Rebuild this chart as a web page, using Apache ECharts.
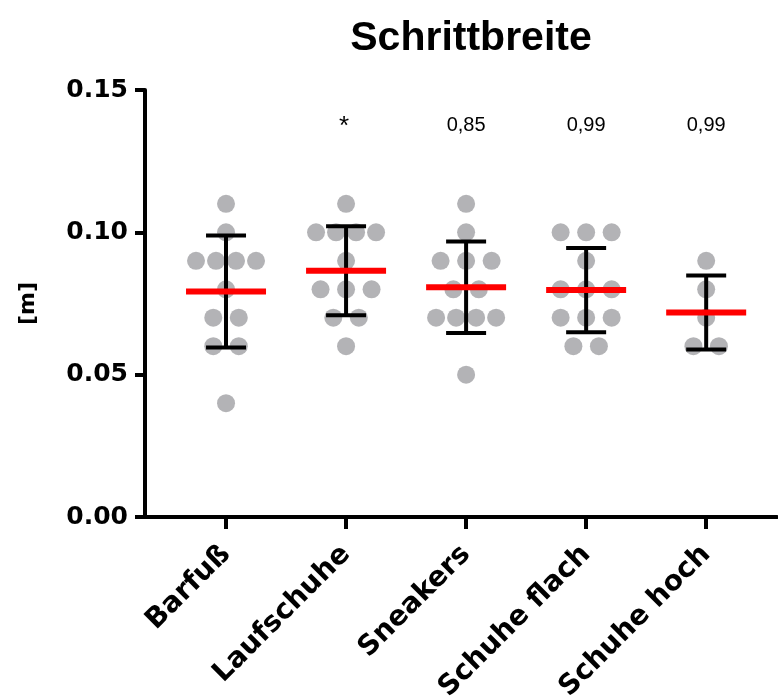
<!DOCTYPE html>
<html>
<head>
<meta charset="utf-8">
<script src="https://cdn.jsdelivr.net/npm/echarts@6/dist/echarts.min.js"></script>
<style>
  html, body { margin: 0; padding: 0; background: #fff; }
  #chart { width: 778px; height: 697px; }
</style>
</head>
<body>
<div id="chart"></div>
<script>
// Groups shown along the x axis
const categories = ['Barfuß', 'Laufschuhe', 'Sneakers', 'Schuhe flach', 'Schuhe hoch'];

// Individual step-width measurements per group [m]
const barfuss     = [0.11, 0.10, 0.09, 0.09, 0.09, 0.09, 0.08, 0.07, 0.07, 0.06, 0.06, 0.04];
const laufschuhe  = [0.11, 0.10, 0.10, 0.10, 0.10, 0.09, 0.08, 0.08, 0.08, 0.07, 0.07, 0.06];
const sneakers    = [0.11, 0.10, 0.09, 0.09, 0.09, 0.08, 0.08, 0.07, 0.07, 0.07, 0.07, 0.05];
const schuheFlach = [0.10, 0.10, 0.10, 0.09, 0.08, 0.08, 0.08, 0.07, 0.07, 0.07, 0.06, 0.06];
const schuheHoch  = [0.09, 0.08, 0.07, 0.06, 0.06];

// Group mean and standard deviation [m]
const means = [0.0792, 0.0865, 0.0807, 0.0797, 0.0718];
const sds   = [0.0197, 0.0156, 0.0161, 0.0148, 0.0130];

// Comparison results printed above each group
const pLabels = ['', '*', '0,85', '0,99', '0,99'];

// Y axis ticks
const yTicks = [0, 0.05, 0.10, 0.15];

const groups = [barfuss, laufschuhe, sneakers, schuheFlach, schuheHoch];
const groupPos = categories.map((c, i) => i + 1);

// Simple beeswarm: equal values in a group are spread side by side
const STEP = 0.2125;      // horizontal spacing of neighbouring dots (x units)
const MAX_SPAN = 0.5;     // widest allowed row (x units)
const dots = [];
groups.forEach((vals, gi) => {
  const rows = new Map();
  vals.forEach(v => {
    const key = v.toFixed(4);
    if (!rows.has(key)) rows.set(key, []);
    rows.get(key).push(v);
  });
  rows.forEach(row => {
    const n = row.length;
    const step = n > 1 ? Math.min(STEP, MAX_SPAN / (n - 1)) : 0;
    row.forEach((v, k) => {
      dots.push([groupPos[gi] + (k - (n - 1) / 2) * step, v]);
    });
  });
});

const summary = groupPos.map((x, i) => [x, means[i], sds[i]]);
const annot = groupPos.map(x => [x, yTicks[yTicks.length - 1]]);

const chart = echarts.init(document.getElementById('chart'), null, { renderer: 'canvas' });

chart.setOption({
  animation: false,
  backgroundColor: '#ffffff',
  title: {
    text: 'Schrittbreite',
    left: 466,
    textAlign: 'center',
    top: 13,
    textStyle: { fontFamily: 'Liberation Sans', fontWeight: 'bold', fontSize: 41, color: '#000' }
  },
  grid: { left: 145, right: 1, top: 90, bottom: 180, containLabel: false, outerBoundsMode: 'none' },
  xAxis: {
    type: 'value',
    min: 0.325,
    max: 5.59,
    splitLine: { show: false },
    axisLine: { show: true, onZero: false, lineStyle: { color: '#000', width: 4 } },
    axisTick: {
      show: true, customValues: groupPos, length: 12,
      lineStyle: { color: '#000', width: 4 }
    },
    axisLabel: {
      customValues: groupPos,
      formatter: v => categories[Math.round(v) - 1],
      rotate: 45,
      margin: 33,
      fontFamily: 'DejaVu Sans',
      fontWeight: 'bold',
      fontSize: 28,
      color: '#000'
    }
  },
  yAxis: {
    type: 'value',
    min: 0,
    max: 0.15,
    interval: 0.05,
    name: '[m]',
    nameLocation: 'middle',
    nameRotate: 90,
    nameGap: 106,
    nameTextStyle: { fontFamily: 'DejaVu Sans', fontWeight: 'bold', fontSize: 22, color: '#000' },
    splitLine: { show: false },
    axisLine: { show: true, onZero: false, lineStyle: { color: '#000', width: 4 } },
    axisTick: { show: true, length: 10, lineStyle: { color: '#000', width: 4 } },
    axisLabel: {
      margin: 17,
      formatter: v => v.toFixed(2),
      fontFamily: 'DejaVu Sans',
      fontWeight: 'bold',
      fontSize: 25,
      color: '#000'
    }
  },
  series: [
    {
      type: 'scatter',
      data: dots,
      symbol: 'circle',
      symbolSize: 18,
      itemStyle: { color: '#a0a0a4' },
      z: 2
    },
    {
      type: 'custom',
      data: summary,
      z: 3,
      renderItem: (params, api) => {
        const x = api.value(0), m = api.value(1), s = api.value(2);
        const c = api.coord([x, m]);
        const top = api.coord([x, m + s]);
        const bot = api.coord([x, m - s]);
        const capHalf = 20, meanHalf = 40;
        const black = { stroke: '#000', lineWidth: 4 };
        return {
          type: 'group',
          children: [
            { type: 'line', shape: { x1: c[0], y1: top[1], x2: c[0], y2: bot[1] }, style: black },
            { type: 'line', shape: { x1: c[0] - capHalf, y1: top[1], x2: c[0] + capHalf, y2: top[1] }, style: black },
            { type: 'line', shape: { x1: c[0] - capHalf, y1: bot[1], x2: c[0] + capHalf, y2: bot[1] }, style: black },
            { type: 'line', shape: { x1: c[0] - meanHalf, y1: c[1], x2: c[0] + meanHalf, y2: c[1] },
              style: { stroke: '#ff0000', lineWidth: 6 } }
          ]
        };
      }
    },
    {
      type: 'custom',
      data: annot,
      z: 4,
      renderItem: (params, api) => {
        const p = api.coord([api.value(0), api.value(1)]);
        const txt = pLabels[params.dataIndex];
        const isStar = txt === '*';
        return {
          type: 'text',
          x: p[0] - (isStar ? 2 : 0),
          y: p[1] + (isStar ? 37 : 35),
          style: {
            text: txt,
            fontFamily: 'Liberation Sans',
            fontSize: isStar ? 26 : 20,
            fill: '#000',
            align: 'center',
            verticalAlign: 'middle'
          }
        };
      }
    }
  ]
});
</script>
</body>
</html>
